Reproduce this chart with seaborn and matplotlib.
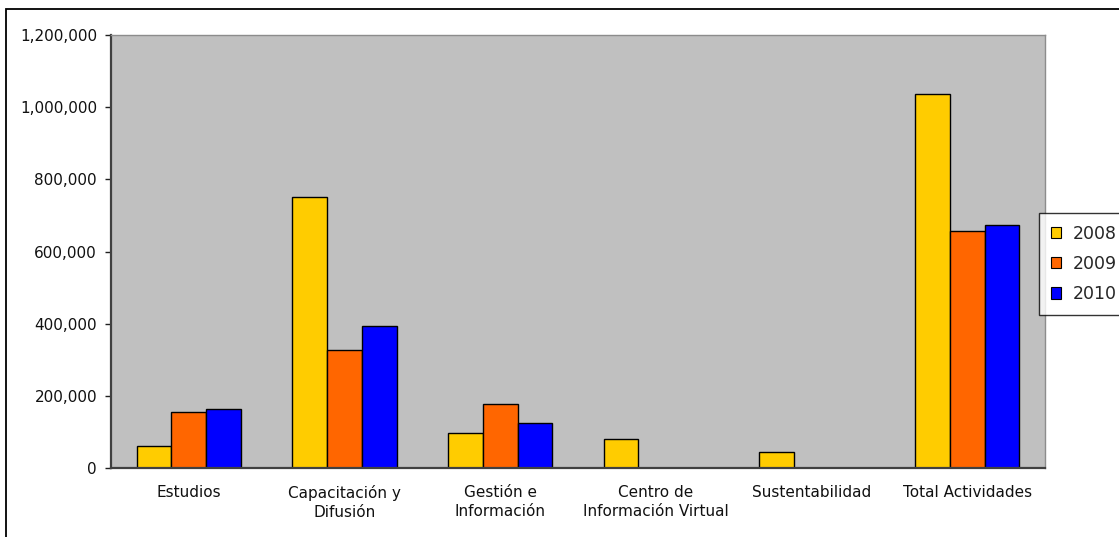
import matplotlib
matplotlib.use("Agg")
import matplotlib.pyplot as plt
import matplotlib.ticker as mticker
from matplotlib.patches import Rectangle
import pandas as pd
import seaborn as sns

# =========================
# Data
# =========================
categorias = [
    "Estudios",
    "Capacitación y\nDifusión",
    "Gestión e\nInformación",
    "Centro de\nInformación Virtual",
    "Sustentabilidad",
    "Total Actividades",
]
anios = ["2008", "2009", "2010"]
valores_2008 = [62000, 751000, 98000, 81000, 43000, 1036000]
valores_2009 = [154000, 328000, 177000, 0, 0, 658000]
valores_2010 = [163000, 393000, 125000, 0, 0, 674000]
colores = ["#FFCC00", "#FF6600", "#0000FF"]

df = pd.DataFrame({
    "categoria": categorias * 3,
    "anio": [a for a in anios for _ in categorias],
    "valor": valores_2008 + valores_2009 + valores_2010,
})

# ========================
# PLOT
# ========================
sns.set_style("white")
plt.rcParams["font.family"] = ["DejaVu Sans"]

fig = plt.figure(figsize=(11.19, 5.37), dpi=100)
ax = fig.add_axes([111 / 1119, 1 - 468 / 537, (1045 - 111) / 1119, (468 - 35) / 537])

sns.barplot(
    data=df, x="categoria", y="valor", hue="anio", order=categorias,
    hue_order=anios, palette=colores, width=0.67, gap=0,
    edgecolor="black", linewidth=1.0, errorbar=None, saturation=1, ax=ax,
)

ax.set_facecolor("#C0C0C0")
ax.set_xlim(-0.5, 5.5)
ax.set_ylim(0, 1_200_000)
ax.set_yticks(range(0, 1_200_001, 200_000))
ax.yaxis.set_major_formatter(mticker.FuncFormatter(lambda v, p: f"{v:,.0f}"))
ax.set_xlabel("")
ax.set_ylabel("")

# ticks between categories (Excel style)
ax.set_xticks([i - 0.5 for i in range(7)], minor=True)
ax.tick_params(axis="x", which="minor", length=5, width=1, color="#202020", direction="out")
ax.tick_params(axis="x", which="major", length=0, pad=12, labelsize=11, labelcolor="#111111")
ax.tick_params(axis="y", length=4, width=1, color="#202020", direction="out",
               pad=6, labelsize=11, labelcolor="#111111", left=True)
for lbl in ax.get_xticklabels():
    lbl.set_linespacing(1.35)

for s in ["left", "bottom"]:
    ax.spines[s].set_color("#404040")
    ax.spines[s].set_linewidth(1.6)
for s in ["top", "right"]:
    ax.spines[s].set_color("#8C8C8C")
    ax.spines[s].set_linewidth(1.0)

leg = ax.legend(
    loc="upper left", bbox_to_anchor=(1039 / 1119, 1 - 213 / 537),
    bbox_transform=fig.transFigure, frameon=True, fancybox=False,
    fontsize=12.5, handlelength=0.6, handleheight=0.6, handletextpad=0.65,
    labelspacing=0.7, borderpad=0.68, borderaxespad=0,
)
leg.get_frame().set_edgecolor("black")
leg.get_frame().set_linewidth(1.0)
for h in leg.legend_handles:
    h.set_edgecolor("black")
    h.set_linewidth(0.8)

# outer chart border
fig.patches.append(Rectangle((6 / 1119, -0.1), 1.2, 1.1 - 9 / 537,
                             transform=fig.transFigure, fill=False,
                             edgecolor="black", linewidth=1.3))

plt.savefig("out.png", dpi=100)
